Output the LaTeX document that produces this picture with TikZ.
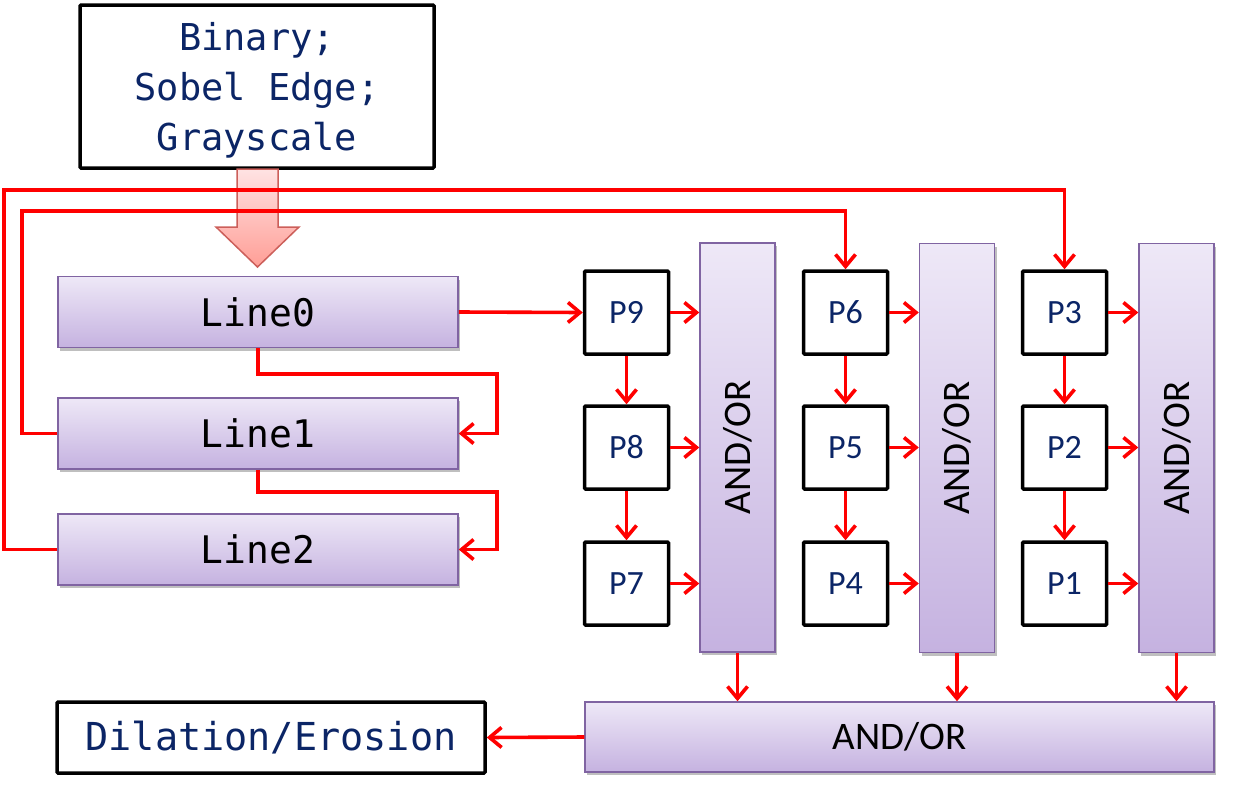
\documentclass[tikz,border=0pt]{standalone}
\usepackage{fontspec}
\setmainfont{Carlito}
\newfontfamily\monof{DejaVu Sans Mono}
\usetikzlibrary{arrows.meta,shadows,calc}
\definecolor{navy}{HTML}{0B2566}
\definecolor{purpleedge}{HTML}{8064A2}
\definecolor{purpletop}{HTML}{EEE8F7}
\definecolor{purplebot}{HTML}{C5B2E0}
\definecolor{pinktop}{HTML}{FFE3E3}
\definecolor{pinkbot}{HTML}{FF9E96}
\definecolor{pinkedge}{HTML}{CC5F5A}
\tikzset{
  blackbox/.style={draw=black, line width=3.5pt, fill=white, rounded corners=1pt, inner sep=0pt, align=center},
  pbox/.style={blackbox, minimum width=84pt, minimum height=83pt, text=navy, font=\fontsize{34}{40}\selectfont},
  purplebox/.style={draw=purpleedge, line width=1.5pt, top color=purpletop, bottom color=purplebot, inner sep=0pt,
    drop shadow={shadow xshift=2pt, shadow yshift=-3pt, opacity=0.25, fill=black}},
  linebox/.style={purplebox, minimum width=400pt, minimum height=71pt, font=\monof\fontsize{38}{44}\selectfont},
  barbox/.style={purplebox, minimum width=75pt, minimum height=409pt, font=\fontsize{39}{46}\selectfont},
  redarrow/.style={draw=red, line width=3.6pt, -{Straight Barb[length=12pt,width=20pt]}},
}
\begin{document}
\begin{tikzpicture}[x=1pt,y=-1pt]
\useasboundingbox (0,0) rectangle (1233,798);
% top box
\node[blackbox, minimum width=354pt, minimum height=163pt, text=navy, font=\monof\fontsize{37}{50}\selectfont] (top) at (257,86.5)
  {\raisebox{-4pt}[\height][\depth]{\begin{tabular}{@{}c@{}}Binary;\\Sobel Edge;\\Grayscale\end{tabular}}};
% big pink arrow
\path[draw=pinkedge, line width=1.5pt, top color=pinktop, bottom color=pinkbot]
  (237,169) -- (278,169) -- (278,227) -- (299,227) -- (257.5,267) -- (216,227) -- (237,227) -- cycle;
% line buffers
\node[linebox] (line0) at (258,312) {Line0};
\node[linebox] (line1) at (258,433.5) {Line1};
\node[linebox] (line2) at (258,549.5) {Line2};
% P boxes
\node[pbox] (p9) at (626.5,312.5) {P9};
\node[pbox] (p8) at (626.5,447.5) {P8};
\node[pbox] (p7) at (626.5,583.5) {P7};
\node[pbox] (p6) at (845.5,312.5) {P6};
\node[pbox] (p5) at (845.5,447.5) {P5};
\node[pbox] (p4) at (845.5,583.5) {P4};
\node[pbox] (p3) at (1064.5,312.5) {P3};
\node[pbox] (p2) at (1064.5,447.5) {P2};
\node[pbox] (p1) at (1064.5,583.5) {P1};
% AND/OR bars
\node[barbox] (bar1) at (737.5,447.5) {\rotatebox{90}{AND/OR}};
\node[barbox] (bar2) at (957,448) {\rotatebox{90}{AND/OR}};
\node[barbox] (bar3) at (1176.5,448) {\rotatebox{90}{AND/OR}};
\node[purplebox, minimum width=629pt, minimum height=70pt, font=\fontsize{39}{46}\selectfont] (final) at (899.5,737) {AND/OR};
\node[blackbox, minimum width=428pt, minimum height=71pt, text=navy, font=\monof\fontsize{38.5}{44}\selectfont] (dil) at (271,737.5) {Dilation/Erosion};
% routing coordinates
\coordinate (r1) at (4,190);
\coordinate (r2) at (22,211);
% connectors
\draw[redarrow] (line0.east) -- (p9.west);
\draw[redarrow] (line0.south) -- ++(0,26) -| ([xshift=38pt]line1.east) -- (line1.east);
\draw[redarrow] (line1.south) -- ++(0,22) -| ([xshift=38pt]line2.east) -- (line2.east);
\draw[redarrow] (line1.west) -| (r2) -| (p6.north);
\draw[redarrow] (line2.west) -| (r1) -| (p3.north);
\foreach \a/\b in {p9/p8,p8/p7,p6/p5,p5/p4,p3/p2,p2/p1}
  \draw[redarrow] (\a.south) -- (\b.north);
\foreach \p/\bar in {p9/bar1,p8/bar1,p7/bar1,p6/bar2,p5/bar2,p4/bar2,p3/bar3,p2/bar3,p1/bar3}
  \draw[redarrow] (\p.east) -- (\p.east -| \bar.west);
\foreach \bar in {bar1,bar2,bar3}
  \draw[redarrow] (\bar.south) -- (\bar.south |- final.north);
\draw[redarrow] (final.west) -- (dil.east);
\end{tikzpicture}
\end{document}
